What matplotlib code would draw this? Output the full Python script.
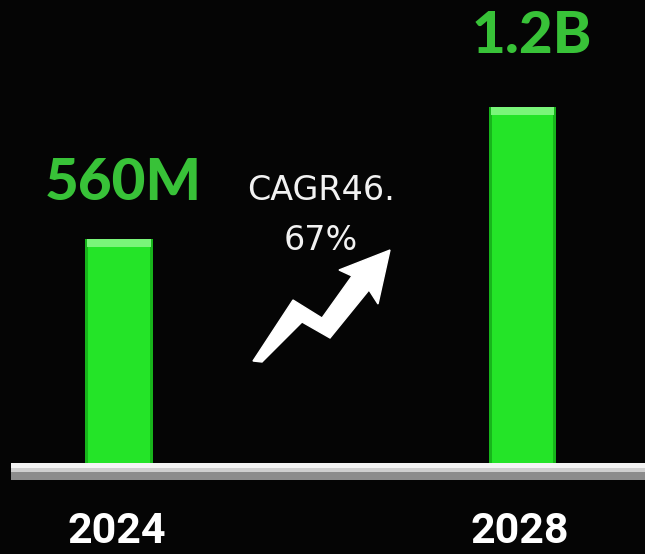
import matplotlib
matplotlib.use("Agg")
import matplotlib.pyplot as plt
from matplotlib.patches import Polygon

# ---- data ---------------------------------------------------------------- #
years = ["2024", "2028"]
value_labels = ["560M", "1.2B"]
bar_heights = [224, 356]          # drawn heights (the chart is not to scale)
cagr_lines = ["CAGR46.", "67%"]

# ---- style ---------------------------------------------------------------- #
BG = "#050505"
BAR = "#24e428"
BAR_TOP = "#7af57a"
BAR_EDGE = "#17b51b"
VALUE = "#38c238"
W, H = 645, 554

fig = plt.figure(figsize=(W / 100, H / 100), dpi=100, facecolor=BG)
ax = fig.add_axes([0, 0, 1, 1], facecolor=BG)
ax.set_xlim(-0.295, 1.3036)
ax.set_ylim(-91, 463)
ax.axis("off")

x = list(range(len(years)))
width = 0.1685

# bars with a bevelled look: body, darker sides, lighter top strip
ax.bar(x, bar_heights, width=width, color=BAR, zorder=2)
for xi, h in zip(x, bar_heights):
    ax.bar([xi - width / 2 + 0.004], [h], width=0.008, color=BAR_EDGE, zorder=3)
    ax.bar([xi + width / 2 - 0.004], [h], width=0.008, color=BAR_EDGE, zorder=3)
    ax.bar([xi], [8], bottom=h - 8, width=width - 0.012, color=BAR_TOP, zorder=4)

# base line: white top fading to grey
x0, x1 = -0.268, 1.31
ax.fill_between([x0, x1], -5, 0, color="#f4f4f4", lw=0, zorder=5)
ax.fill_between([x0, x1], -9, -5, color="#cfcfcf", lw=0, zorder=5)
ax.fill_between([x0, x1], -17, -9, color="#8c8c8c", lw=0, zorder=5)

# value labels above bars
label_gap = [39, 54]
label_dx = [0.011, 0.024]
for xi, h, lab, g, dx in zip(x, bar_heights, value_labels, label_gap, label_dx):
    ax.text(xi + dx, h + g, lab, color=VALUE, fontsize=42, fontweight=900,
            family=["Lato", "DejaVu Sans"], ha="center", va="baseline")

# year labels at the bottom edge
for xi, yr in zip(x, years):
    ax.text(xi - 0.006, -80, yr, color="white", fontsize=31, fontweight="bold",
            family=["Roboto", "DejaVu Sans"], ha="center", va="baseline")

# CAGR note
ax.text(0.5, 263, cagr_lines[0], color="#f2f2f2", fontsize=24,
        family=["DejaVu Sans"], ha="center", va="baseline")
ax.text(0.5, 213, cagr_lines[1], color="#f2f2f2", fontsize=24,
        family=["DejaVu Sans"], ha="center", va="baseline")

# zig-zag growth arrow, outline in pixel coords of the picture
arrow_px = [(253, 361), (293, 300), (322, 318), (352, 276), (339, 270),
            (390, 250), (378, 304), (369, 290), (330, 338), (302, 322),
            (262, 362)]
arrow = Polygon([(px / W, 1 - py / H) for px, py in arrow_px],
                closed=True, transform=fig.transFigure,
                facecolor="white", edgecolor="white", lw=1.0, zorder=6)
fig.patches.append(arrow)

fig.savefig("out.png", dpi=100, facecolor=BG)
